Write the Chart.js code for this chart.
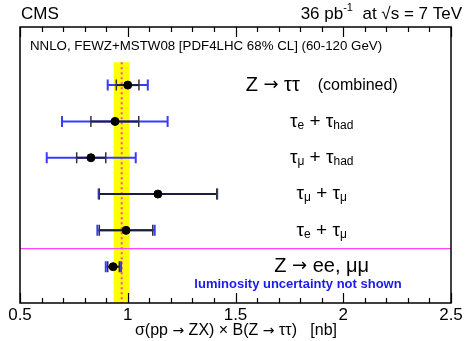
<!DOCTYPE html>
<html>
<head>
<meta charset="utf-8">
<script src="https://cdn.jsdelivr.net/npm/chart.js@4.4.0/dist/chart.umd.min.js"></script>
<style>
  body { margin: 0; background: #fff; }
  #wrap { width: 466px; height: 341px; position: relative; }
</style>
</head>
<body>
<div id="wrap"><canvas id="myChart"></canvas></div>
<script>
// channels, top to bottom
const channels = ["Z → ττ (combined)", "τe + τhad", "τμ + τhad", "τμ + τμ", "τe + τμ", "Z → ee, μμ"];
const rowPos = [6, 5, 4, 3, 2, 1];
const xsec = [1.00, 0.941, 0.829, 1.14, 0.992, 0.932];
// inner (statistical) error bar ends
const statLo = [0.947, 0.829, 0.763, 0.868, 0.868, 0.907];
const statHi = [1.052, 1.051, 0.898, 1.413, 1.116, 0.961];
// outer (total) error bar ends
const totLo = [0.907, 0.695, 0.624, 0.865, 0.859, 0.898];
const totHi = [1.093, 1.185, 1.037, 1.415, 1.125, 0.969];
// NNLO theory prediction
const theory = 0.972;
const theoryErr = 0.037;
const xTickLabels = ["0.5", "1", "1.5", "2", "2.5"];

const FONT = "'Liberation Sans', Arial, Helvetica, sans-serif";
const SYM = "'DejaVu Sans', sans-serif";

// label runs: [text, size, baseline shift, font]
const labelRuns = [
  [["Z ", 20, 0], ["→", 18, 0, SYM], [" ττ", 20, 0], ["    (combined)", 16, 0]],
  [["τ", 19, 0], ["e", 12, 4], [" + τ", 19, 0], ["had", 12, 4]],
  [["τ", 19, 0], ["μ", 12, 4], [" + τ", 19, 0], ["had", 12, 4]],
  [["τ", 19, 0], ["μ", 12, 4], [" + τ", 19, 0], ["μ", 12, 4]],
  [["τ", 19, 0], ["e", 12, 4], [" + τ", 19, 0], ["μ", 12, 4]],
  [["Z ", 20, 0], ["→", 18, 0, SYM], [" ee, μμ", 20, 0]],
];
const titleRuns = [["σ(pp ", 16, 0], ["→", 14, 0, SYM], [" ZX) × B(Z ", 16, 0], ["→", 14, 0, SYM], [" ττ)   [nb]", 16, 0]];

function drawRuns(ctx, runs, cx, cy) {
  let total = 0;
  runs.forEach(([t, s, dy, f]) => {
    ctx.font = s + "px " + (f || FONT);
    total += ctx.measureText(t).width;
  });
  let x = cx - total / 2;
  ctx.textAlign = "left";
  ctx.textBaseline = "middle";
  runs.forEach(([t, s, dy, f]) => {
    ctx.font = s + "px " + (f || FONT);
    ctx.fillText(t, x, cy + dy);
    x += ctx.measureText(t).width;
  });
}

const decor = {
  id: "decor",
  beforeDatasetsDraw(chart) {
    const { ctx, chartArea: a, scales: { x, y } } = chart;
    ctx.save();
    // theory band
    ctx.fillStyle = "#ffff00";
    const bx0 = x.getPixelForValue(theory - theoryErr);
    const bx1 = x.getPixelForValue(theory + theoryErr);
    const btop = y.getPixelForValue(6.63);
    ctx.fillRect(bx0, btop, bx1 - bx0, a.bottom - btop);
    ctx.strokeStyle = "#ff44aa";
    ctx.lineWidth = 2;
    ctx.setLineDash([2, 3]);
    ctx.beginPath();
    ctx.moveTo(x.getPixelForValue(theory), btop);
    ctx.lineTo(x.getPixelForValue(theory), a.bottom);
    ctx.stroke();
    ctx.setLineDash([]);

    // separator between tau and ee/mumu
    ctx.strokeStyle = "#ff44ff";
    ctx.lineWidth = 1.2;
    ctx.beginPath();
    ctx.moveTo(a.left, y.getPixelForValue(1.5));
    ctx.lineTo(a.right, y.getPixelForValue(1.5));
    ctx.stroke();

    // error bars
    const cap = 5.5;
    rowPos.forEach((r, i) => {
      const py = y.getPixelForValue(r);
      const oL = x.getPixelForValue(totLo[i]), oH = x.getPixelForValue(totHi[i]);
      const iL = x.getPixelForValue(statLo[i]), iH = x.getPixelForValue(statHi[i]);
      ctx.lineWidth = 2;
      ctx.strokeStyle = "#3a3aff";
      ctx.beginPath();
      ctx.moveTo(oL, py); ctx.lineTo(oH, py);
      ctx.moveTo(oL, py - cap); ctx.lineTo(oL, py + cap);
      ctx.moveTo(oH, py - cap); ctx.lineTo(oH, py + cap);
      ctx.stroke();
      ctx.strokeStyle = "#1c1c3c";
      ctx.beginPath();
      ctx.moveTo(iL, py); ctx.lineTo(iH, py);
      ctx.stroke();
      ctx.strokeStyle = "#333";
      ctx.lineWidth = 1.5;
      ctx.beginPath();
      ctx.moveTo(iL, py - cap); ctx.lineTo(iL, py + cap);
      ctx.moveTo(iH, py - cap); ctx.lineTo(iH, py + cap);
      ctx.stroke();
    });
    ctx.restore();
  },
  afterDatasetsDraw(chart) {
    const { ctx, chartArea: a, scales: { x, y } } = chart;
    ctx.save();
    // frame
    ctx.strokeStyle = "#000";
    ctx.lineWidth = 1.5;
    ctx.strokeRect(a.left, a.top, a.right - a.left, a.bottom - a.top);
    // ticks top and bottom
    ctx.lineWidth = 1.2;
    for (let k = 0; k <= 20; k++) {
      const v = 0.5 + k * 0.1;
      const px = Math.round(x.getPixelForValue(v)) + 0.5;
      const len = k % 5 === 0 ? 10 : 5;
      ctx.beginPath();
      ctx.moveTo(px, a.bottom); ctx.lineTo(px, a.bottom - len);
      ctx.moveTo(px, a.top); ctx.lineTo(px, a.top + len);
      ctx.stroke();
    }
    // tick labels
    ctx.fillStyle = "#000";
    ctx.font = "17px " + FONT;
    ctx.textAlign = "center";
    ctx.textBaseline = "middle";
    xTickLabels.forEach((t, k) => {
      ctx.fillText(t, x.getPixelForValue(0.5 + k * 0.5), a.bottom + 12);
    });
    // axis title
    drawRuns(ctx, titleRuns, 236, a.bottom + 28);

    // header
    ctx.textBaseline = "middle";
    ctx.font = "17px " + FONT;
    ctx.textAlign = "left";
    ctx.fillText("CMS", 21, 14);
    ctx.textAlign = "right";
    ctx.font = "17px " + FONT;
    const tail = "at √s = 7 TeV";
    ctx.fillText(tail, 462, 14);
    const tw = ctx.measureText(tail + "  ").width;
    ctx.font = "11px " + FONT;
    ctx.fillText("-1", 462 - tw, 8);
    const sw = ctx.measureText("-1").width;
    ctx.font = "17px " + FONT;
    ctx.fillText("36 pb", 462 - tw - sw, 14);

    ctx.textAlign = "left";
    ctx.font = "13.3px " + FONT;
    ctx.fillText("NNLO, FEWZ+MSTW08 [PDF4LHC 68% CL] (60-120 GeV)", 30, 46);

    // channel labels
    labelRuns.forEach((runs, i) => {
      drawRuns(ctx, runs, x.getPixelForValue(1.9), y.getPixelForValue(rowPos[i]));
    });

    ctx.fillStyle = "#1a1aee";
    ctx.font = "bold 13px " + FONT;
    ctx.textAlign = "center";
    ctx.textBaseline = "middle";
    ctx.fillText("luminosity uncertainty not shown", x.getPixelForValue(1.79), y.getPixelForValue(0.5));
    ctx.restore();
  },
};

const ctx = document.getElementById("myChart").getContext("2d");
new Chart(ctx, {
  type: "scatter",
  data: {
    datasets: [
      {
        label: "measurement",
        data: xsec.map((v, i) => ({ x: v, y: rowPos[i] })),
        backgroundColor: "#000",
        borderColor: "#000",
        pointRadius: 4,
        pointHoverRadius: 4,
      },
    ],
  },
  plugins: [decor],
  options: {
    responsive: true,
    maintainAspectRatio: false,
    animation: false,
    layout: { padding: { left: 20, right: 15, top: 27, bottom: 38 } },
    plugins: { legend: { display: false }, tooltip: { enabled: false } },
    scales: {
      x: { type: "linear", min: 0.5, max: 2.5, display: false },
      y: { type: "linear", min: 0, max: 7.6, display: false },
    },
  },
});
</script>
</body>
</html>
